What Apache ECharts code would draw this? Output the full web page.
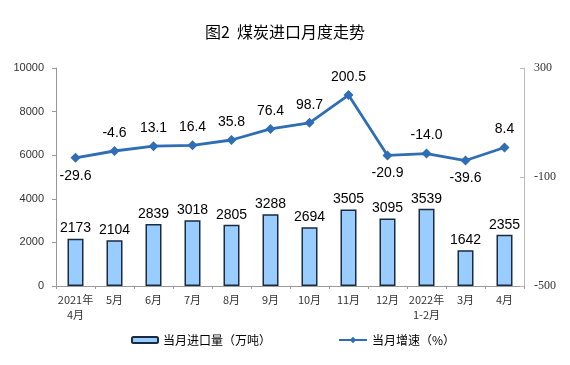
<!DOCTYPE html>
<html><head><meta charset="utf-8">
<script src="https://cdn.jsdelivr.net/npm/echarts@6/dist/echarts.min.js"></script>
<style>html,body{margin:0;padding:0;background:#fff}#c{width:570px;height:365px}</style>
</head><body><div id="c"></div>
<script>
const categories = ['2021年\n4月','5月','6月','7月','8月','9月','10月','11月','12月','2022年\n1-2月','3月','4月'];
const importVolume = [2173,2104,2839,3018,2805,3288,2694,3505,3095,3539,1642,2355];
const growthRate = [-29.6,-4.6,13.1,16.4,35.8,76.4,98.7,200.5,-20.9,-14.0,-39.6,8.4];
const belowLabels = [0,8,10];

const chart = echarts.init(document.getElementById('c'));
chart.setOption({
  animation:false,
  backgroundColor:'#fff',
  title:{text:'图2  煤炭进口月度走势',left:'center',top:19,textStyle:{fontFamily:'Noto Sans CJK SC',fontSize:16,fontWeight:'normal',color:'#000'}},
  legend:[
    {data:['当月进口量（万吨）'],left:126,top:329,itemWidth:26,itemHeight:6,itemGap:4,textStyle:{fontFamily:'Noto Sans CJK SC',fontSize:12,color:'#000'}},
    {data:['当月增速（%）'],left:333,top:329,itemWidth:28,itemHeight:8,textStyle:{fontFamily:'Noto Sans CJK SC',fontSize:12,color:'#000'}}
  ],
  grid:{left:56,right:46,top:68,bottom:79},
  xAxis:{type:'category',data:categories,
    axisLine:{lineStyle:{color:'#999'}},
    axisTick:{show:true,length:3,lineStyle:{color:'#999'}},
    axisLabel:{interval:0,fontFamily:'Noto Sans CJK SC',fontSize:11,color:'#333',lineHeight:15,margin:6}},
  yAxis:[
    {type:'value',min:0,max:10000,interval:2000,splitLine:{show:false},
     axisLine:{show:true,lineStyle:{color:'#999'}},axisTick:{show:true,length:4,lineStyle:{color:'#999'}},
     axisLabel:{fontFamily:'Liberation Sans',fontSize:11,color:'#333',margin:12,formatter:v=>String(v)}},
    {type:'value',min:-500,max:300,interval:400,splitLine:{show:false},
     axisLine:{show:true,lineStyle:{color:'#bbb'}},axisTick:{show:true,length:4,inside:true,lineStyle:{color:'#bbb'}},
     axisLabel:{fontFamily:'Liberation Serif',fontSize:12,color:'#333',margin:10}}
  ],
  series:[
    {name:'当月进口量（万吨）',type:'bar',data:importVolume,barWidth:16,
     itemStyle:{color:'#99CCFF',borderColor:'#1a2a3f',borderWidth:1.5},
     label:{show:true,position:'top',distance:3,fontFamily:'Liberation Sans',fontSize:14,color:'#000'}},
    {name:'当月增速（%）',type:'line',yAxisIndex:1,
     data:growthRate.map((v,i)=>({value:v,label:{position:belowLabels.includes(i)?'bottom':'top'}})),
     symbol:'diamond',symbolSize:10,
     lineStyle:{color:'#2F6DB5',width:2.8},itemStyle:{color:'#2F6DB5'},
     label:{show:true,distance:6,fontFamily:'Liberation Sans',fontSize:14,color:'#000',formatter:p=>p.value.toFixed(1)}}
  ]
});
</script></body></html>
